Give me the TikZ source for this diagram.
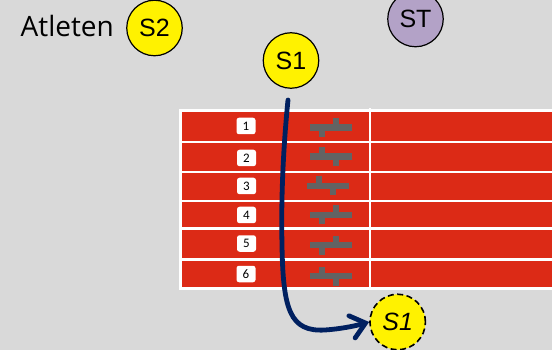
\documentclass[tikz,border=0pt]{standalone}
\usetikzlibrary{arrows.meta}
\usepackage{fontspec}
\setmainfont{Liberation Sans}
\newfontfamily\lblfont{Carlito}
\newfontfamily\headfont{Open Sans}
\definecolor{bgc}{HTML}{D9D9D9}
\definecolor{trackred}{HTML}{DC2A16}
\definecolor{navyc}{HTML}{002060}
\definecolor{stc}{HTML}{B3A2C7}
\definecolor{blockc}{HTML}{636363}
\tikzset{x=1pt,y=-1pt,
 runner/.style={circle,draw=black,line width=1.2pt,minimum size=55.5pt,inner sep=0pt,font=\fontsize{25}{27}\selectfont,fill=yellow},
 lanebox/.style={fill=white,rounded corners=2.5pt,minimum width=19pt,minimum height=16.5pt,inner sep=0pt,font=\lblfont\fontsize{13}{14}\selectfont},
 lane/.style={fill=trackred,draw=none},
 blockbar/.style={fill=blockc,draw=none}}
\newcommand{\blockA}[2]{%
 \fill[blockbar] (#1-21,#2-3.2) rectangle (#1+21,#2+3.2);
 \fill[blockbar] (#1+2,#2-9.5) rectangle (#1+8,#2-3);
 \fill[blockbar] (#1-12,#2+3) rectangle (#1-6,#2+9.5);}
\newcommand{\blockB}[2]{%
 \fill[blockbar] (#1-21,#2-3.2) rectangle (#1+21,#2+3.2);
 \fill[blockbar] (#1-12,#2-9.5) rectangle (#1-6,#2-3);
 \fill[blockbar] (#1+2,#2+3) rectangle (#1+8,#2+9.5);}
\begin{document}
\begin{tikzpicture}
\useasboundingbox (0,0) rectangle (552,350);
\fill[bgc] (0,0) rectangle (552,350);
% track
\fill[white] (179,109) rectangle (552,290);
\foreach \a/\b in {112/141,143/171,173/200,202/227,230/258,261/287}{
 \fill[lane] (181.5,\a) rectangle (368.5,\b);
 \fill[lane] (371,\a) rectangle (552,\b);}
\fill[white] (368.5,108) rectangle (371,290);
% lane numbers
\foreach \n/\x/\y in {1/246/126,2/246.5/158,3/246.5/186,4/246.5/215,5/246.5/243.5,6/246/274}{
 \node[lanebox] (n\n) at (\x,\y) {\n};}
% blocks
\blockA{331}{127.5}
\blockB{331}{156.7}
\blockB{328}{186}
\blockA{331}{215}
\blockA{331}{245}
\blockB{331}{276}
% texts and runners
\node[anchor=base west,inner sep=0pt,font=\headfont\fontsize{28}{30}\selectfont] (at) at (20.5,37) {Atleten};
\node[runner] (s2) at (154.5,28) {S2};
\node[runner,fill=stc] (st) at (415.5,19) {ST};
\node[runner] (s1) at (291,60.5) {S1};
\node[runner,line width=1.6pt,dash pattern=on 6pt off 3.5pt,font=\fontsize{25}{27}\selectfont\itshape] (s1b) at (397.7,322) {S1};
\coordinate (start) at (288,100);
\draw[navyc,line width=4.8pt,line cap=round,-{Straight Barb[length=14pt,width=23pt,line cap=round]}]
 (start) .. controls (283,150) and (281,200) .. (282,245)
 .. controls (283,310) and (290,332) .. (325,330)
 .. controls (340,329) and (355,326) .. (s1b.west);
\end{tikzpicture}
\end{document}
